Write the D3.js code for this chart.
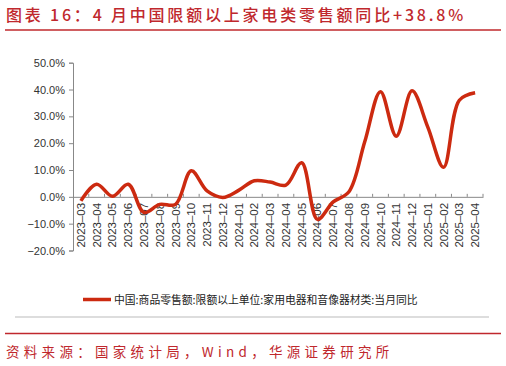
<!DOCTYPE html>
<html><head><meta charset="utf-8">
<script src="https://cdn.jsdelivr.net/npm/d3@7"></script>
<style>body{margin:0;background:#fff}svg{display:block}</style>
</head><body>
<script>
const categories = ["2023-03","2023-04","2023-05","2023-06","2023-07","2023-08","2023-09","2023-10","2023-11","2023-12","2024-01","2024-02","2024-03","2024-04","2024-05","2024-06","2024-07","2024-08","2024-09","2024-10","2024-11","2024-12","2025-01","2025-02","2025-03","2025-04"];
const values = [-1.5,4.7,0.2,4.7,-5.8,-2.8,-2.8,9.7,2.2,-0.2,2.4,6.0,5.5,4.4,12.7,-8.4,-1.9,1.9,20.5,39.2,22.6,39.5,26.0,11.0,36.0,38.8];
const yTicks = [-20,-10,0,10,20,30,40,50];
const seriesName = "中国:商品零售额:限额以上单位:家用电器和音像器材类:当月同比";
const titleText = "图表 16：4 月中国限额以上家电类零售额同比+38.8%";
const sourceText = "资料来源：国家统计局，Wind，华源证券研究所";

const W = 506, H = 366;
const red = "#c0282d";
const svg = d3.select("body").append("svg").attr("width", W).attr("height", H);

svg.append("text").attr("x", 6).attr("y", 21).text(titleText)
  .attr("fill", red).attr("font-family", "Noto Sans CJK SC").attr("font-size", 16).attr("font-weight", 500)
  .attr("letter-spacing", 2.8);
svg.append("line").attr("x1", 5).attr("x2", 501).attr("y1", 30).attr("y2", 30).attr("stroke", red).attr("stroke-width", 1.5);

const x = d3.scaleBand().domain(categories).range([73, 483]);
const y = d3.scaleLinear().domain([-20, 50]).range([250.5, 62.7]);

const yAxis = svg.append("g").attr("transform", "translate(73,0)")
  .call(d3.axisLeft(y).tickValues(yTicks).tickSize(4).tickFormat(d => (d < 0 ? "−" : "") + Math.abs(d).toFixed(1) + "%"));
yAxis.select(".domain").attr("stroke", "#888");
yAxis.selectAll(".tick line").attr("stroke", "#888");
yAxis.selectAll(".tick text").attr("font-family", "Liberation Sans, Arial").attr("font-size", 11).attr("fill", "#333").attr("x", -8);

const xAxis = svg.append("g").attr("transform", `translate(0,${y(0)})`)
  .call(d3.axisBottom(x).tickSize(0).tickSizeOuter(0).tickFormat(d => d.replace("-", "–")));
xAxis.select(".domain").attr("stroke", "#888");
xAxis.selectAll(".tick text")
  .attr("font-family", "Liberation Sans, Arial").attr("font-size", 11.5).attr("fill", "#333")
  .attr("transform", "rotate(-90)").attr("text-anchor", "end").attr("x", -6).attr("y", 0).attr("dy", "0.35em");
xAxis.selectAll(".bt").data(categories).enter().append("line")
  .attr("x1", (d, i) => x.range()[0] + x.step() * (i + 1)).attr("x2", (d, i) => x.range()[0] + x.step() * (i + 1))
  .attr("y1", -3).attr("y2", 0).attr("stroke", "#888");

const line = d3.line().x((d, i) => x(categories[i]) + x.bandwidth() / 2).y(d => y(d)).curve(d3.curveCatmullRom.alpha(0.5));
svg.append("path").datum(values).attr("d", line).attr("fill", "none").attr("stroke", "#cc2a10").attr("stroke-width", 3.5).attr("stroke-linejoin", "round");

svg.append("line").attr("x1", 83).attr("x2", 111).attr("y1", 299.5).attr("y2", 299.5).attr("stroke", "#cc2a10").attr("stroke-width", 3.5);
svg.append("text").attr("x", 114).attr("y", 303.5).text(seriesName)
  .attr("font-family", "Noto Sans CJK SC").attr("font-size", 10.8).attr("fill", "#222");
svg.append("line").attr("x1", 15).attr("x2", 489).attr("y1", 317).attr("y2", 317).attr("stroke", "#bbb").attr("stroke-width", 1);

svg.append("line").attr("x1", 5).attr("x2", 501).attr("y1", 333.5).attr("y2", 333.5).attr("stroke", red).attr("stroke-width", 1.5);
svg.append("text").attr("x", 6).attr("y", 357).text(sourceText)
  .attr("fill", red).attr("font-family", "Noto Sans CJK SC").attr("font-size", 13.5).attr("letter-spacing", 4.3);
</script>
</body></html>
